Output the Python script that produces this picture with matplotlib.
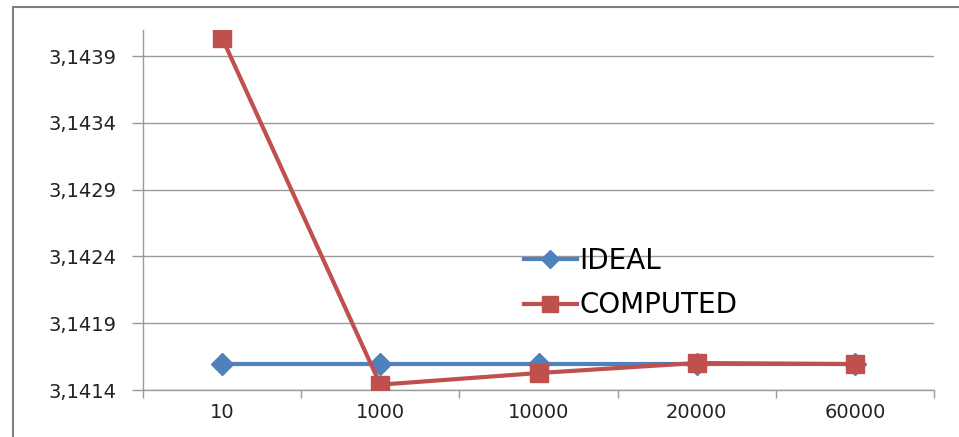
import matplotlib.pyplot as plt
from matplotlib.ticker import FuncFormatter, FixedLocator
from matplotlib.patches import Rectangle

categories = ['10', '1000', '10000', '20000', '60000']
ideal = [3.1415927, 3.1415927, 3.1415927, 3.1415927, 3.1415927]
computed = [3.144035, 3.14144, 3.141527, 3.141602, 3.141594]
yticks = [3.1414, 3.1419, 3.1424, 3.1429, 3.1434, 3.1439]

blue = '#4F81BD'
red = '#C0504D'
grid_c = '#9a9a9a'

plt.rcParams['font.family'] = ['DejaVu Sans']

fig = plt.figure(figsize=(9.59, 4.37), dpi=100)
# outer chart border (cut off at right and bottom)
fig.patches.append(Rectangle((13/959, -0.2), 1.2, 0.2 + (1 - 7/437), transform=fig.transFigure,
                             fill=False, edgecolor='#808080', linewidth=1.5))

ax1 = fig.add_axes([143/959, 1 - 390/437, (934 - 143)/959, 360/437])
x = list(range(len(categories)))

ax1.plot(x, ideal, '-', color=blue, linewidth=3, marker='D', markersize=11,
         label='IDEAL', zorder=3)
ax1.plot(x, computed, '-', color=red, linewidth=3, marker='s', markersize=13,
         label='COMPUTED', zorder=4)

ax1.set_xlim(-0.5, len(categories) - 0.5)
ax1.set_ylim(3.1414, 3.1414 + 0.0005 * 360 / 66.8)
ax1.set_yticks(yticks)
ax1.yaxis.set_major_formatter(FuncFormatter(lambda v, p: ('%.4f' % v).replace('.', ',')))
ax1.set_xticks(x)
ax1.set_xticklabels(categories)
ax1.xaxis.set_minor_locator(FixedLocator([i - 0.5 for i in range(len(categories) + 1)]))
ax1.tick_params(axis='x', which='major', length=0, pad=9, labelsize=14, labelcolor='#222222')
ax1.tick_params(axis='x', which='minor', length=6, color=grid_c, width=1)
ax1.tick_params(axis='y', length=8, color=grid_c, width=1, pad=11, labelsize=14, labelcolor='#222222')

ax1.grid(axis='y', color=grid_c, linewidth=1)
ax1.set_axisbelow(True)
for s in ['top', 'right']:
    ax1.spines[s].set_visible(False)
for s in ['left', 'bottom']:
    ax1.spines[s].set_color(grid_c)
    ax1.spines[s].set_linewidth(1)

ax1.legend(loc='center left', bbox_to_anchor=(510/959, 1 - 283/437),
           bbox_transform=fig.transFigure, frameon=False, fontsize=20,
           handlelength=1.9, handletextpad=0.1, labelspacing=0.6, borderpad=0,
           markerscale=0.85)

plt.savefig('out.png', dpi=100)
